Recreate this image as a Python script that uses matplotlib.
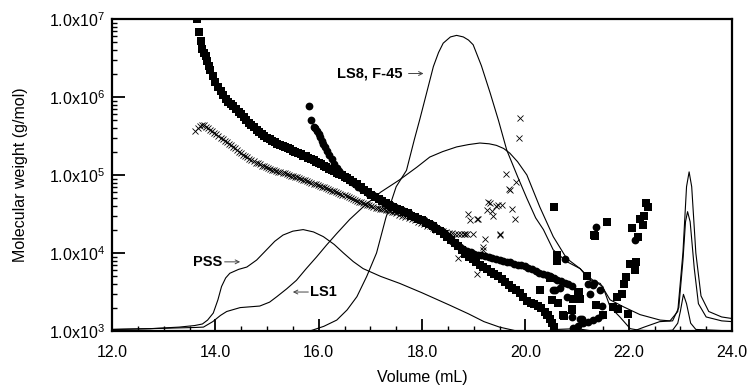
import numpy as np
import matplotlib
matplotlib.use("Agg")
import matplotlib.pyplot as plt
from matplotlib.ticker import LogLocator, NullFormatter, MultipleLocator

plt.rcParams['font.family'] = ['Liberation Sans', 'DejaVu Sans']
plt.rcParams['mathtext.default'] = 'regular'

# ---------------- data (volume in mL, log10 of molecular weight / signal) -------------
pss_vol = [12.0, 12.74, 13.3, 13.6, 13.75, 13.85, 13.96, 14.05, 14.12, 14.2, 14.28, 14.45, 14.61,
           14.8, 14.99, 15.15, 15.31, 15.5, 15.7, 15.9, 16.09, 16.3, 16.48, 16.67, 16.86, 17.2,
           17.57, 18.0, 18.54, 18.9, 19.2, 19.5, 19.9, 20.1, 20.4, 20.6, 21.0, 21.3, 21.5, 21.9,
           22.3, 22.6, 22.85, 22.97, 23.05, 23.1, 23.14, 23.19, 23.27, 23.35, 23.5, 23.8, 24.0]
pss_log = [3.02, 3.03, 3.05, 3.07, 3.09, 3.14, 3.23, 3.40, 3.57, 3.68, 3.74, 3.79, 3.82,
           3.91, 4.04, 4.15, 4.23, 4.28, 4.30, 4.27, 4.21, 4.11, 4.00, 3.89, 3.80, 3.70,
           3.61, 3.49, 3.33, 3.22, 3.12, 3.05, 2.99, 2.97, 3.00, 3.02, 3.03, 3.00, 2.97, 2.95,
           3.05, 3.12, 3.13, 3.30, 3.90, 4.40, 4.53, 4.40, 3.80, 3.35, 3.18, 3.13, 3.12]

ls1_vol = [12.0, 12.74, 13.3, 13.6, 13.77, 13.95, 14.1, 14.22, 14.48, 14.86, 15.05, 15.19, 15.38,
           15.57, 15.76, 15.96, 16.15, 16.35, 16.6, 16.86, 17.2, 17.57, 17.9, 18.15, 18.4, 18.67,
           18.9, 19.12, 19.3, 19.44, 19.58, 19.7, 19.85, 20.03, 20.28, 20.54, 20.8, 21.06, 21.25,
           21.45, 21.64, 21.9, 22.22, 22.61, 22.8, 22.95, 23.05, 23.12, 23.17, 23.22, 23.3, 23.4,
           23.55, 23.8, 24.0]
ls1_log = [3.02, 3.03, 3.04, 3.045, 3.05, 3.12, 3.20, 3.25, 3.30, 3.32, 3.37, 3.44, 3.54,
           3.65, 3.80, 3.95, 4.10, 4.25, 4.43, 4.59, 4.78, 4.94, 5.10, 5.23, 5.30, 5.36,
           5.39, 5.41, 5.40, 5.38, 5.34, 5.28, 5.17, 5.00, 4.59, 4.21, 3.93, 3.80, 3.65,
           3.61, 3.40, 3.31, 3.21, 3.14, 3.13, 3.25, 4.00, 4.85, 5.04, 4.85, 4.00, 3.45,
           3.25, 3.18, 3.16]

ls8_vol = [12.0, 15.6, 15.83, 16.1, 16.35, 16.55, 16.74, 16.93, 17.12, 17.3, 17.5, 17.7, 17.85,
           17.96, 18.1, 18.22, 18.32, 18.41, 18.55, 18.67, 18.8, 18.9, 18.99, 19.15, 19.32, 19.48,
           19.64, 19.85, 20.03, 20.2, 20.35, 20.54, 20.8, 21.06, 21.18, 21.31, 21.5, 21.64, 21.83,
           22.03, 22.2, 22.6, 22.85, 22.95, 23.0, 23.06, 23.12, 23.2, 23.3, 24.0]
ls8_log = [2.5, 2.95, 3.00, 3.06, 3.14, 3.27, 3.44, 3.70, 4.00, 4.45, 4.85, 5.06, 5.45,
           5.72, 6.08, 6.39, 6.57, 6.69, 6.77, 6.79, 6.77, 6.73, 6.67, 6.40, 6.05, 5.70,
           5.32, 4.98, 4.70, 4.45, 4.30, 4.04, 3.89, 3.80, 3.72, 3.65, 3.57, 3.31, 3.18,
           3.03, 3.01, 3.00, 3.01, 3.10, 3.25, 3.47, 3.35, 3.10, 3.02, 3.00]

# filled squares: dense band, then scattered points
sq_band_vol = [13.64, 13.69, 13.72, 13.75, 13.78, 13.81, 13.84, 13.87,
               13.90, 13.95, 14.00, 14.05, 14.10, 14.15, 14.20, 14.25, 14.30, 14.35, 14.40, 14.45,
               14.50, 14.55, 14.60, 14.65, 14.70, 14.75, 14.80, 14.85, 14.90, 14.95, 15.00, 15.05,
               15.10, 15.15, 15.20, 15.25, 15.30, 15.35, 15.40, 15.45, 15.50, 15.55, 15.60, 15.65,
               15.70, 15.75, 15.80, 15.85, 15.90, 15.95, 16.00, 16.05, 16.10, 16.15, 16.20, 16.25,
               16.30, 16.35, 16.40, 16.45, 16.50, 16.55, 16.60, 16.67, 16.74, 16.81, 16.88, 16.95,
               17.02, 17.09, 17.16, 17.23, 17.30, 17.37, 17.44, 17.51, 17.58, 17.65, 17.72, 17.79,
               17.86, 17.93, 18.00, 18.07, 18.14, 18.21, 18.28, 18.35, 18.42, 18.49, 18.56, 18.63,
               18.70, 18.77, 18.84, 18.91, 18.98, 19.05, 19.12, 19.19, 19.26, 19.33, 19.40, 19.47,
               19.54, 19.61, 19.68, 19.75, 19.82, 19.89, 19.96, 20.03, 20.10, 20.17, 20.24, 20.31,
               20.38, 20.43, 20.47, 20.51, 20.55]
sq_band_log = [7.00, 6.83, 6.72, 6.62, 6.57, 6.52, 6.46, 6.40,
               6.35, 6.27, 6.19, 6.13, 6.08, 6.03, 5.98, 5.94, 5.91, 5.88, 5.85, 5.81,
               5.78, 5.74, 5.70, 5.67, 5.64, 5.61, 5.58, 5.55, 5.53, 5.50, 5.48, 5.46,
               5.44, 5.42, 5.40, 5.39, 5.37, 5.36, 5.34, 5.33, 5.31, 5.30, 5.28, 5.27,
               5.25, 5.24, 5.22, 5.20, 5.19, 5.17, 5.15, 5.14, 5.12, 5.10, 5.08, 5.07,
               5.05, 5.03, 5.01, 5.00, 4.98, 4.96, 4.94, 4.91, 4.88, 4.85, 4.81, 4.78,
               4.75, 4.72, 4.69, 4.67, 4.64, 4.62, 4.59, 4.57, 4.55, 4.53, 4.51, 4.48,
               4.46, 4.44, 4.42, 4.39, 4.37, 4.34, 4.31, 4.28, 4.24, 4.21, 4.17, 4.13,
               4.09, 4.04, 3.99, 3.95, 3.92, 3.88, 3.85, 3.82, 3.79, 3.76, 3.73, 3.70,
               3.67, 3.63, 3.59, 3.55, 3.52, 3.49, 3.44, 3.39, 3.36, 3.34, 3.32, 3.29,
               3.25, 3.20, 3.15, 3.10, 3.05]
sq_scat_vol = [20.55, 21.59, 21.34, 22.06, 22.34, 22.37, 22.30, 22.22, 22.27, 22.19, 22.03, 22.15,
               22.12, 21.94, 21.91, 21.87, 21.77, 21.98, 20.61, 21.20, 21.01, 20.95, 20.72, 20.91,
               21.37, 21.50, 21.70, 21.79, 20.62, 20.51, 20.48, 20.28, 20.64, 20.93, 21.03, 21.06,
               20.74, 20.90, 20.41, 21.32, 21.58]
sq_scat_log = [4.59, 4.40, 4.22, 4.32, 4.64, 4.59, 4.47, 4.43, 4.36, 4.21, 3.86, 3.88,
               3.78, 3.69, 3.60, 3.47, 3.43, 3.22, 3.90, 3.71, 3.50, 3.41, 3.20, 3.28,
               3.33, 3.20, 3.31, 3.28, 3.97, 3.40, 3.68, 3.53, 3.36, 3.41, 3.50, 3.41,
               3.19, 3.27, 3.20, 4.23, 4.40]

# filled circles
ci_band_vol = [15.82, 15.86, 15.90, 15.93, 15.96, 16.00, 16.03, 16.06, 16.09, 16.12, 16.16, 16.20,
               16.25, 16.30, 16.35, 16.40, 16.46, 16.52, 16.58, 16.64, 16.70, 16.77, 16.84, 16.91,
               16.98, 17.05, 17.12, 17.19, 17.26, 17.33, 17.40, 17.47, 17.54, 17.61, 17.68, 17.75,
               17.82, 17.89, 17.96, 18.03, 18.10, 18.17, 18.24, 18.31, 18.38, 18.45, 18.52, 18.59,
               18.66, 18.73, 18.80, 18.87, 18.94, 19.01, 19.08, 19.15, 19.22, 19.29, 19.36, 19.43,
               19.50, 19.57, 19.64, 19.71, 19.78, 19.85, 19.92, 19.99, 20.06, 20.13, 20.20, 20.27,
               20.34, 20.41, 20.48, 20.55, 20.62, 20.69, 20.76, 20.83, 20.90]
ci_band_log = [5.88, 5.70, 5.62, 5.60, 5.57, 5.52, 5.49, 5.44, 5.40, 5.36, 5.31, 5.26,
               5.20, 5.14, 5.09, 5.05, 5.01, 4.97, 4.94, 4.91, 4.88, 4.85, 4.82, 4.79,
               4.76, 4.74, 4.71, 4.69, 4.66, 4.64, 4.62, 4.59, 4.57, 4.55, 4.53, 4.51,
               4.48, 4.46, 4.44, 4.42, 4.39, 4.37, 4.34, 4.31, 4.28, 4.24, 4.20, 4.16,
               4.12, 4.08, 4.05, 4.03, 4.01, 3.99, 3.98, 3.97, 3.96, 3.95, 3.94, 3.92,
               3.91, 3.90, 3.89, 3.88, 3.86, 3.85, 3.84, 3.83, 3.81, 3.79, 3.77, 3.75,
               3.73, 3.72, 3.70, 3.68, 3.66, 3.64, 3.62, 3.60, 3.58]
ci_scat_vol = [21.36, 22.12, 20.77, 21.32, 21.44, 21.22, 20.80, 21.48, 21.09, 21.25, 20.90, 20.58,
               20.54, 20.67, 21.31, 21.06, 20.93, 21.02, 21.12, 21.22, 21.31, 21.40, 21.48]
ci_scat_log = [4.33, 4.17, 3.92, 3.61, 3.53, 3.60, 3.44, 3.32, 3.16, 3.48, 3.18, 3.53,
               3.53, 3.55, 3.59, 3.16, 3.04, 3.07, 3.10, 3.12, 3.14, 3.17, 3.20]

# crosses
x_band_vol = [13.61, 13.66, 13.70, 13.74, 13.78, 13.82, 13.86, 13.90, 13.94, 13.98, 14.02, 14.06,
              14.10, 14.14, 14.18, 14.22, 14.26, 14.30, 14.34, 14.38, 14.42, 14.46, 14.50, 14.54,
              14.58, 14.62, 14.66, 14.70, 14.74, 14.78, 14.82, 14.86, 14.90, 14.94, 14.98, 15.02,
              15.06, 15.10, 15.14, 15.18, 15.22, 15.26, 15.30, 15.34, 15.38, 15.42, 15.46, 15.50,
              15.54, 15.58, 15.62, 15.66, 15.70, 15.74, 15.78, 15.82, 15.86, 15.90, 15.94, 15.98,
              16.02, 16.06, 16.10, 16.14, 16.18, 16.22, 16.26, 16.30, 16.34, 16.38, 16.42, 16.46,
              16.50, 16.54, 16.58, 16.62, 16.66, 16.70, 16.74, 16.78, 16.82, 16.86, 16.90, 16.94,
              16.98, 17.02, 17.06, 17.10, 17.14, 17.18, 17.22, 17.26, 17.30, 17.34, 17.38, 17.42,
              17.46, 17.50, 17.56, 17.62, 17.68, 17.74, 17.80, 17.86, 17.92, 17.98, 18.04, 18.10,
              18.16, 18.22, 18.28, 18.34, 18.40, 18.46, 18.52, 18.58, 18.64, 18.70, 18.76, 18.82,
              18.88]
x_band_log = [5.56, 5.60, 5.63, 5.64, 5.64, 5.62, 5.60, 5.58, 5.56, 5.54, 5.52, 5.50,
              5.48, 5.46, 5.44, 5.42, 5.40, 5.38, 5.36, 5.34, 5.32, 5.30, 5.28, 5.26,
              5.24, 5.23, 5.21, 5.19, 5.18, 5.16, 5.15, 5.14, 5.12, 5.11, 5.10, 5.09,
              5.08, 5.07, 5.06, 5.05, 5.04, 5.04, 5.03, 5.02, 5.01, 5.00, 4.99, 4.99,
              4.98, 4.97, 4.96, 4.95, 4.94, 4.93, 4.92, 4.91, 4.90, 4.89, 4.88, 4.87,
              4.86, 4.85, 4.84, 4.83, 4.82, 4.81, 4.80, 4.79, 4.78, 4.77, 4.76, 4.75,
              4.74, 4.73, 4.72, 4.71, 4.69, 4.68, 4.67, 4.66, 4.65, 4.64, 4.63, 4.62,
              4.61, 4.60, 4.59, 4.58, 4.58, 4.57, 4.56, 4.56, 4.55, 4.55, 4.54, 4.53,
              4.52, 4.51, 4.49, 4.48, 4.46, 4.45, 4.43, 4.42, 4.40, 4.39, 4.37, 4.35,
              4.34, 4.32, 4.30, 4.29, 4.28, 4.27, 4.26, 4.26, 4.25, 4.25, 4.25, 4.24,
              4.24]
x_scat_vol = [19.90, 19.87, 19.62, 19.82, 19.69, 19.28, 19.44, 19.54, 19.74, 19.35, 19.25, 18.90,
              19.06, 18.93, 19.38, 19.80, 19.70, 19.32, 19.48, 19.09, 18.83, 18.99, 19.51, 19.22,
              19.19, 19.19, 18.70, 19.07, 19.51]
x_scat_log = [5.73, 5.48, 5.01, 4.91, 4.82, 4.66, 4.60, 4.62, 4.57, 4.54, 4.55, 4.50,
              4.44, 4.42, 4.47, 4.44, 4.81, 4.64, 4.62, 4.44, 4.25, 4.25, 4.24, 4.18,
              4.08, 4.04, 3.93, 3.73, 4.23]

xticks = [12, 14, 16, 18, 20, 22, 24]
xtick_labels = ['12.0', '14.0', '16.0', '18.0', '20.0', '22.0', '24.0']
yticks = [1e3, 1e4, 1e5, 1e6, 1e7]
ytick_labels = [r'1.0x10$^{3}$', r'1.0x10$^{4}$', r'1.0x10$^{5}$', r'1.0x10$^{6}$', r'1.0x10$^{7}$']

# ---------------- figure -------------
fig = plt.figure(figsize=(7.51, 3.90), dpi=100)
ax = fig.add_axes([112/751, 1-331/390, 620/751, 312/390])

def pw(a):
    return np.power(10.0, np.asarray(a))

lw = 0.8
ax.plot(pss_vol, pw(pss_log), color='black', lw=lw)
ax.plot(ls1_vol, pw(ls1_log), color='black', lw=lw)
ax.plot(ls8_vol, pw(ls8_log), color='black', lw=lw)

xkw = dict(ls='none', marker='x', ms=5.0, mew=0.6, color='black')
ax.plot(x_band_vol, pw(x_band_log), **xkw)
ax.plot(x_scat_vol, pw(x_scat_log), **xkw)
skw = dict(ls='none', marker='s', ms=5.3, color='black', mew=0)
ax.plot(sq_band_vol, pw(sq_band_log), **skw)
ax.plot(sq_scat_vol, pw(sq_scat_log), **skw)
ckw = dict(ls='none', marker='o', ms=5.6, color='black', mew=0)
ax.plot(ci_band_vol, pw(ci_band_log), **ckw)
ax.plot(ci_scat_vol, pw(ci_scat_log), **ckw)

ax.set_yscale('log')
ax.set_xlim(12, 24)
ax.set_ylim(1e3, 1e7)

ax.set_xticks(xticks)
ax.set_xticklabels(xtick_labels)
ax.xaxis.set_minor_locator(MultipleLocator(0.5))
ax.set_yticks(yticks)
ax.set_yticklabels(ytick_labels)
ax.yaxis.set_minor_locator(LogLocator(base=10, subs=np.arange(2, 10)))
ax.yaxis.set_minor_formatter(NullFormatter())

ax.tick_params(which='major', direction='in', length=9, width=1.3, labelsize=11.5)
ax.tick_params(axis='x', which='major', pad=10)
ax.tick_params(axis='y', which='major', pad=5)
ax.tick_params(which='minor', direction='in', length=3.5, width=1.0)
ax.tick_params(top=False, right=False, which='both')
for s in ax.spines.values():
    s.set_linewidth(1.6)

ax.set_xlabel('Volume (mL)', fontsize=11.5, labelpad=7)
ax.set_ylabel('Molecular weight (g/mol)', fontsize=11.5, labelpad=15)

# annotations
akw = dict(arrowstyle='->', lw=0.7, color='#444444', mutation_scale=7, shrinkA=0, shrinkB=0)
ax.text(13.57, 7.7e3, 'PSS', fontsize=10.5, fontweight='bold', va='center', ha='left')
ax.annotate('', xy=(14.48, 7.7e3), xytext=(14.18, 7.7e3), arrowprops=akw)
ax.text(16.35, 2.0e6, 'LS8, F-45', fontsize=10.5, fontweight='bold', va='center', ha='left')
ax.annotate('', xy=(18.03, 2.0e6), xytext=(17.74, 2.0e6), arrowprops=akw)
ax.annotate('', xy=(15.50, 3.16e3), xytext=(15.80, 3.16e3), arrowprops=akw)
ax.text(15.83, 3.16e3, 'LS1', fontsize=10.5, fontweight='bold', va='center', ha='left')

fig.savefig('out.png', dpi=100)
